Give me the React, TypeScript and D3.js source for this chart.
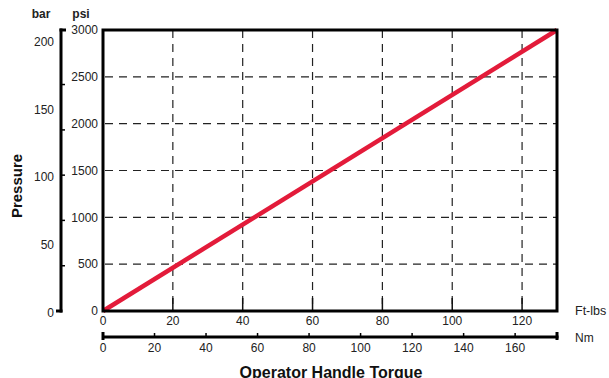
import React from "react";
import * as d3 from "d3";

const torqueFtLbs = [0, 130];
const pressurePsi = [0, 3000];
const ftLbTicks = [0, 20, 40, 60, 80, 100, 120];
const nmTicks = [0, 20, 40, 60, 80, 100, 120, 140, 160];
const psiTicks = [0, 500, 1000, 1500, 2000, 2500, 3000];
const barLabels = [0, 50, 100, 150, 200];
const barTicks = [0, 33.3, 66.7, 100, 133.3, 166.7];
const NM_PER_FTLB = 1.3558;
const PSI_PER_BAR = 14.5038;

const FONT = "'Liberation Sans', Arial, Helvetica, sans-serif";

export default function App() {
  const W = 609, H = 378;
  const left = 103, right = 557, top = 30, bottom = 311;
  const x = d3.scaleLinear().domain([0, 130]).range([left, right]);
  const y = d3.scaleLinear().domain([0, 3000]).range([bottom, top]);
  const xNm = d3.scaleLinear().domain([0, 130 * NM_PER_FTLB]).range([left, right]);
  const yBar = d3.scaleLinear().domain([0, 3000 / PSI_PER_BAR]).range([bottom, top]);
  const line = d3.line<number>().x((d, i) => x(torqueFtLbs[i])).y((d) => y(d));
  const barX = 61;
  const nmY = 337;

  return (
    <div style={{ position: "absolute", left: 0, top: 0 }}>
      <svg width={W} height={H} style={{ display: "block", fontFamily: FONT }}>
        <rect width={W} height={H} fill="#fff" />
        {/* grid */}
        {ftLbTicks.filter((t) => t > 0).map((t) => (
          <line key={"gx" + t} x1={x(t)} x2={x(t)} y1={top} y2={bottom} stroke="#222" strokeWidth={1.2} strokeDasharray="8,6" />
        ))}
        {psiTicks.filter((t) => t > 0 && t < 3000).map((t) => (
          <line key={"gy" + t} x1={left} x2={right} y1={y(t)} y2={y(t)} stroke="#222" strokeWidth={1.2} strokeDasharray="8,6" strokeDashoffset={-2} />
        ))}
        {/* bottom ticks inside */}
        {ftLbTicks.filter((t) => t > 0).map((t) => (
          <line key={"bt" + t} x1={x(t)} x2={x(t)} y1={bottom} y2={bottom - 13} stroke="#111" strokeWidth={1.5} />
        ))}
        {/* data line */}
        <path d={line(pressurePsi) || ""} fill="none" stroke="#e31b3a" strokeWidth={4.5} strokeLinecap="butt" />
        {/* plot border */}
        <rect x={left} y={top} width={right - left} height={bottom - top} fill="none" stroke="#000" strokeWidth={3} />
        {/* psi labels */}
        {psiTicks.map((t) => (
          <text key={"pl" + t} x={left - 5} y={y(t)} dy="0.36em" textAnchor="end" fontSize={12} fill="#222">{t}</text>
        ))}
        {/* ft-lb labels */}
        {ftLbTicks.map((t) => (
          <text key={"fl" + t} x={x(t)} y={bottom + 14} textAnchor="middle" fontSize={12} fill="#222">{t}</text>
        ))}
        <text x={575} y={315} fontSize={12.5} fill="#222">Ft-lbs</text>
        {/* Nm axis */}
        <line x1={left} x2={right + 1.5} y1={nmY} y2={nmY} stroke="#000" strokeWidth={3} />
        <line x1={left} x2={left} y1={nmY - 5} y2={nmY + 3} stroke="#000" strokeWidth={3} />
        <line x1={right} x2={right} y1={nmY - 5} y2={nmY + 3} stroke="#000" strokeWidth={3} />
        {nmTicks.filter((t) => t > 0).map((t) => (
          <line key={"nt" + t} x1={xNm(t)} x2={xNm(t)} y1={nmY} y2={nmY - 4} stroke="#000" strokeWidth={1.5} />
        ))}
        {nmTicks.map((t) => (
          <text key={"nl" + t} x={xNm(t)} y={nmY + 15} textAnchor="middle" fontSize={12} fill="#222">{t}</text>
        ))}
        <text x={575} y={342} fontSize={12} fill="#222">Nm</text>
        {/* bar axis */}
        <line x1={barX} x2={barX} y1={top - 1.5} y2={bottom + 1.5} stroke="#000" strokeWidth={3} />
        <line x1={barX - 1.5} x2={barX + 5} y1={top} y2={top} stroke="#000" strokeWidth={3} />
        <line x1={barX - 5} x2={barX + 1.5} y1={bottom} y2={bottom} stroke="#000" strokeWidth={3} />
        {barTicks.filter((t) => t > 0).map((t) => (
          <line key={"bk" + t} x1={barX} x2={barX + 4} y1={yBar(t)} y2={yBar(t)} stroke="#000" strokeWidth={1.5} />
        ))}
        {barLabels.map((t) => (
          <text key={"bl" + t} x={barX - 7} y={yBar(t) + 2} dy="0.36em" textAnchor="end" fontSize={12} fill="#222">{t}</text>
        ))}
        <text x={41} y={18} textAnchor="middle" fontSize={12} fontWeight="bold" fill="#222">bar</text>
        <text x={81} y={18} textAnchor="middle" fontSize={12} fontWeight="bold" fill="#222">psi</text>
        <text transform={`translate(22,186) rotate(-90)`} textAnchor="middle" fontSize={15} fontWeight="bold" fill="#111">Pressure</text>
        <text x={331} y={378} textAnchor="middle" fontSize={16} fontWeight="bold" fill="#111">Operator Handle Torque</text>
      </svg>
    </div>
  );
}
